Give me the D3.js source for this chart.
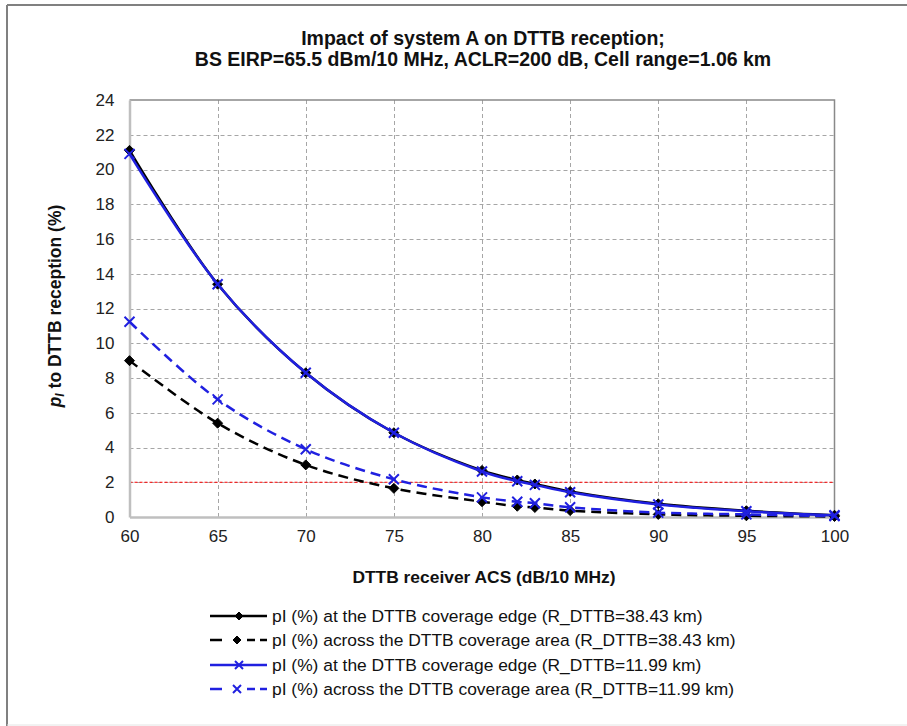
<!DOCTYPE html>
<html><head><meta charset="utf-8">
<script src="https://cdn.jsdelivr.net/npm/d3@7"></script>
<style>body{margin:0;background:#fff}svg{display:block;font-family:"Liberation Sans",Arial,sans-serif}</style>
</head><body><svg id="c" width="907" height="726"></svg>
<script>
const acs = [60, 65, 70, 75, 80, 82, 83, 85, 90, 95, 100];
const edge3843 = [21.1, 13.4, 8.3, 4.85, 2.68, 2.13, 1.9, 1.47, 0.76, 0.36, 0.1];
const area3843 = [9.0, 5.4, 3.0, 1.65, 0.88, 0.62, 0.55, 0.37, 0.15, 0.07, 0.03];
const edge1199 = [20.9, 13.4, 8.3, 4.85, 2.62, 2.06, 1.85, 1.42, 0.72, 0.33, 0.1];
const area1199 = [11.24, 6.77, 3.9, 2.17, 1.13, 0.88, 0.79, 0.56, 0.25, 0.15, 0.05];
const xTicks = [60, 65, 70, 75, 80, 85, 90, 95, 100];
const yTicks = [0, 2, 4, 6, 8, 10, 12, 14, 16, 18, 20, 22, 24];
const threshold = 2;
const seriesNames = [
  "pI (%) at the DTTB coverage edge (R_DTTB=38.43 km)",
  "pI (%) across the DTTB coverage area (R_DTTB=38.43 km)",
  "pI (%) at the DTTB coverage edge (R_DTTB=11.99 km)",
  "pI (%) across the DTTB coverage area (R_DTTB=11.99 km)"
];
const series = [
  {name: seriesNames[0], values: edge3843, color: "#000000", dash: null, marker: "diamond"},
  {name: seriesNames[1], values: area3843, color: "#000000", dash: "10,6", marker: "diamond"},
  {name: seriesNames[2], values: edge1199, color: "#2020e0", dash: null, marker: "x"},
  {name: seriesNames[3], values: area1199, color: "#2020e0", dash: "10,6", marker: "x"}
];

const svg = d3.select("#c");
const W = 907, H = 726;
// outer frame
svg.append("line").attr("x1", 7).attr("x2", W).attr("y1", 5).attr("y2", 5).attr("stroke", "#808080").attr("stroke-width", 2);
svg.append("line").attr("x1", 7).attr("x2", 7).attr("y1", 5).attr("y2", H).attr("stroke", "#808080").attr("stroke-width", 2);
svg.append("line").attr("x1", 7).attr("x2", W).attr("y1", 725).attr("y2", 725).attr("stroke", "#e4e4e4").attr("stroke-width", 1);

const L = 129.5, R = 834.5, T = 100, B = 517;
const x = d3.scaleLinear().domain([60, 100]).range([L, R]);
const y = d3.scaleLinear().domain([0, 24]).range([B, T]);

// gridlines
const g = svg.append("g");
g.selectAll(".hg").data(yTicks.filter(v => v > 0 && v < 24)).enter().append("line")
  .attr("x1", L).attr("x2", R).attr("y1", d => Math.round(y(d)) + 0.5).attr("y2", d => Math.round(y(d)) + 0.5)
  .attr("stroke", "#a6a6a6").attr("stroke-width", 1).attr("stroke-dasharray", "4,3");
g.selectAll(".vg").data(xTicks.filter(v => v > 60 && v < 100)).enter().append("line")
  .attr("y1", T).attr("y2", B).attr("x1", d => Math.round(x(d)) + 0.5).attr("x2", d => Math.round(x(d)) + 0.5)
  .attr("stroke", "#a6a6a6").attr("stroke-width", 1).attr("stroke-dasharray", "4,3");
// plot border top/right
svg.append("path").attr("d", `M${L},${T}H${R}V${B}`).attr("fill", "none").attr("stroke", "#898989").attr("stroke-width", 1.5);

// threshold
svg.append("line").attr("x1", L).attr("x2", R).attr("y1", y(threshold)).attr("y2", y(threshold))
  .attr("stroke", "#ff0000").attr("stroke-width", 1).attr("stroke-dasharray", "3,2");

// axes
const xAxis = svg.append("g").attr("transform", `translate(0,${B})`)
  .call(d3.axisBottom(x).tickValues(xTicks).tickSize(0).tickPadding(13));
const yAxis = svg.append("g").attr("transform", `translate(${L},0)`)
  .call(d3.axisLeft(y).tickValues(yTicks).tickSize(0).tickPadding(15));
[xAxis, yAxis].forEach(a => {
  a.select(".domain").attr("stroke", "#bfbfbf").attr("stroke-width", 2.5);
  a.selectAll("text").attr("font-size", 17).attr("fill", "#222").attr("font-family", "Liberation Sans, Arial, sans-serif");
});

// series
const line = d3.line().x((d, i) => x(acs[i])).y(d => y(d)).curve(d3.curveCatmullRom.alpha(0.5));
function marker(sel, type, color, size) {
  if (type === "diamond") {
    sel.append("path").attr("d", `M0,${-size}L${size},0L0,${size}L${-size},0Z`).attr("fill", color).attr("stroke", color);
  } else {
    sel.append("path").attr("d", `M${-size},${-size}L${size},${size}M${-size},${size}L${size},${-size}`)
      .attr("fill", "none").attr("stroke", color).attr("stroke-width", 2);
  }
}
series.forEach(s => {
  svg.append("path").datum(s.values).attr("d", line).attr("fill", "none")
    .attr("stroke", s.color).attr("stroke-width", 2.5).attr("stroke-dasharray", s.dash);
  s.values.forEach((v, i) => {
    const m = svg.append("g").attr("transform", `translate(${x(acs[i])},${y(v)})`);
    marker(m, s.marker, s.color, 5);
  });
});

// titles
svg.append("text").attr("x", 483).attr("y", 45).attr("text-anchor", "middle").attr("font-weight", "bold")
  .attr("font-size", 19.5).attr("fill", "#111").text("Impact of system A on DTTB reception;");
svg.append("text").attr("x", 483).attr("y", 66).attr("text-anchor", "middle").attr("font-weight", "bold")
  .attr("font-size", 19.5).attr("fill", "#111").text("BS EIRP=65.5 dBm/10 MHz, ACLR=200 dB, Cell range=1.06 km");
svg.append("text").attr("x", 484).attr("y", 583).attr("text-anchor", "middle").attr("font-weight", "bold")
  .attr("font-size", 17.4).attr("fill", "#111").text("DTTB receiver ACS (dB/10 MHz)");
const yl = svg.append("text").attr("transform", "translate(61,306) rotate(-90)").attr("text-anchor", "middle")
  .attr("font-weight", "bold").attr("font-size", 17.5).attr("fill", "#111");
yl.append("tspan").attr("font-style", "italic").text("p");
yl.append("tspan").attr("font-style", "italic").attr("font-size", 12).attr("dy", 3).text("I");
yl.append("tspan").attr("dy", -3).text(" to DTTB reception (%)");

// legend
const lg = svg.append("g");
const rowsY = [616, 640, 665, 689];
series.forEach((s, i) => {
  const gy = rowsY[i];
  const row = lg.append("g").attr("transform", `translate(0,${gy})`);
  if (s.dash) {
    [[210, 222], [247, 255], [260, 267]].forEach(([a, b]) =>
      row.append("line").attr("x1", a).attr("x2", b).attr("stroke", s.color).attr("stroke-width", 2.5));
  } else {
    row.append("line").attr("x1", 210).attr("x2", 267).attr("stroke", s.color).attr("stroke-width", 2.5);
  }
  const m = row.append("g").attr("transform", `translate(${s.dash ? 237 : 239},0)`);
  marker(m, s.marker, s.color, 4);
  row.append("text").attr("x", 272).attr("y", 6).attr("font-size", 17.4).attr("fill", "#111").text(s.name);
});
</script></body></html>
